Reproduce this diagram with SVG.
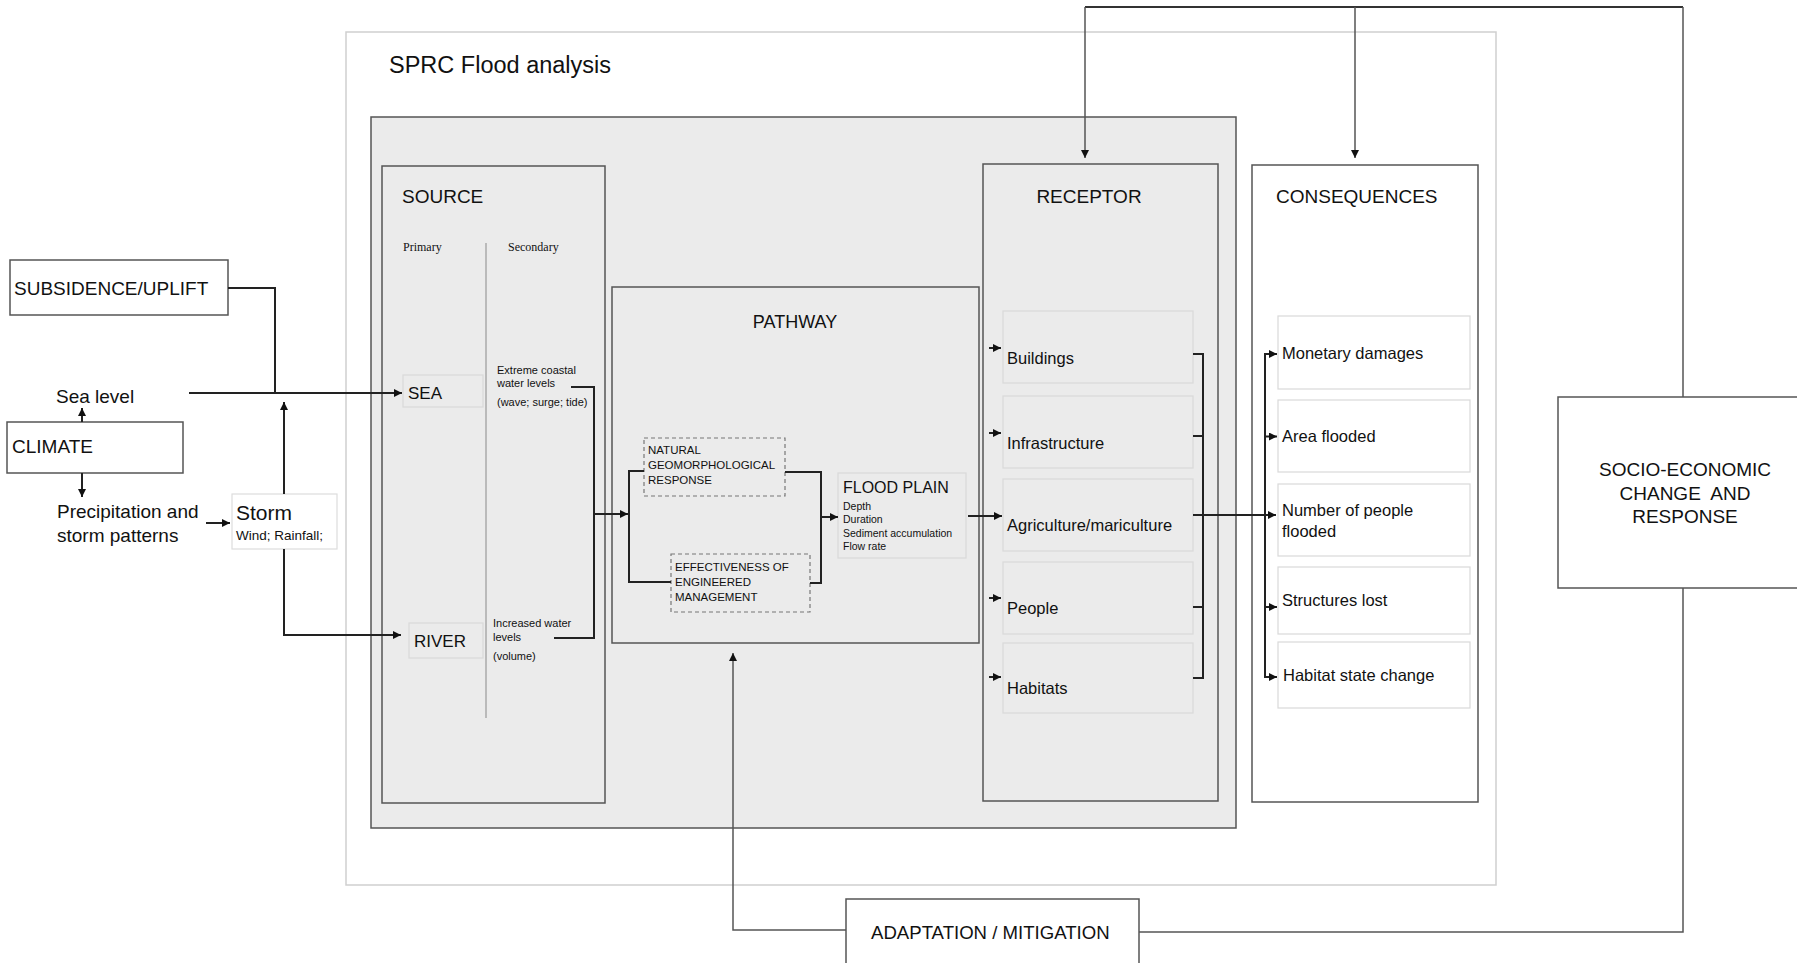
<svg xmlns="http://www.w3.org/2000/svg" width="1797" height="963" viewBox="0 0 1797 963">
<style>
text{font-family:"Liberation Sans",Arial,sans-serif;fill:#111}
.serif{font-family:"Liberation Serif","Times New Roman",serif}
.box{fill:#fff;stroke:#555;stroke-width:1.5}
.gbox{fill:#ebebeb;stroke:#555;stroke-width:1.5}
.item{fill:#ebebeb;stroke:#d9d9d9;stroke-width:1.2}
.witem{fill:#fff;stroke:#d9d9d9;stroke-width:1.2}
.dash{fill:none;stroke:#777;stroke-width:1.2;stroke-dasharray:4 3}
.ln{fill:none;stroke:#222;stroke-width:2}
.fb{fill:none;stroke:#555;stroke-width:1.5}
.h{font-size:19px}
.it{font-size:16.5px}
.sm{font-size:11px}
</style>
<defs>
<marker id="ah" viewBox="0 0 10 10" refX="10" refY="5" markerWidth="8" markerHeight="8" markerUnits="userSpaceOnUse" orient="auto">
<path d="M0,0 L10,5 L0,10 z" fill="#111"/>
</marker>
</defs>
<rect width="1797" height="963" fill="#fff"/>

<g id="sprc-frame">
<rect x="346" y="32" width="1150" height="853" fill="#fff" stroke="#cfcfcf" stroke-width="1.5"/>
<text x="389" y="73" style="font-size:23.5px">SPRC Flood analysis</text>
<rect x="371" y="117" width="865" height="711" class="gbox"/>
</g>

<g id="source">
<rect x="382" y="166" width="223" height="637" class="gbox"/>
<text x="402" y="203" class="h">SOURCE</text>
<text x="403" y="251" class="serif" style="font-size:12px">Primary</text>
<text x="508" y="251" class="serif" style="font-size:12px">Secondary</text>
<line x1="486" y1="243" x2="486" y2="718" stroke="#aaa" stroke-width="1.5"/>
</g>
<g id="sea">
<rect x="403" y="375" width="80" height="32" class="item"/>
<text x="408" y="399" style="font-size:17px">SEA</text>
</g>
<g id="river">
<rect x="409" y="623" width="74" height="35" class="item"/>
<text x="414" y="647" style="font-size:17px">RIVER</text>
</g>
<g id="sea-secondary">
<text x="497" y="374" class="sm">Extreme coastal</text>
<text x="497" y="387" class="sm">water levels</text>
<text x="497" y="406" class="sm">(wave; surge; tide)</text>
</g>
<g id="river-secondary">
<text x="493" y="627" class="sm">Increased water</text>
<text x="493" y="641" class="sm">levels</text>
<text x="493" y="660" class="sm">(volume)</text>
</g>

<g id="pathway">
<rect x="612" y="287" width="367" height="356" class="gbox"/>
<text x="795" y="328" class="h" text-anchor="middle" style="font-size:18px">PATHWAY</text>
</g>
<g id="natural">
<rect x="644" y="438" width="141" height="58" class="dash"/>
<text x="648" y="454" style="font-size:11.5px">NATURAL</text>
<text x="648" y="469" style="font-size:11.5px">GEOMORPHOLOGICAL</text>
<text x="648" y="484" style="font-size:11.5px">RESPONSE</text>
</g>
<g id="engineered">
<rect x="671" y="554" width="139" height="58" class="dash"/>
<text x="675" y="571" style="font-size:11.5px">EFFECTIVENESS OF</text>
<text x="675" y="586" style="font-size:11.5px">ENGINEERED</text>
<text x="675" y="601" style="font-size:11.5px">MANAGEMENT</text>
</g>
<g id="floodplain">
<rect x="838" y="473" width="128" height="85" class="item"/>
<text x="843" y="493" style="font-size:16px">FLOOD PLAIN</text>
<text x="843" y="510" style="font-size:10.5px">Depth</text>
<text x="843" y="523" style="font-size:10.5px">Duration</text>
<text x="843" y="537" style="font-size:10.5px">Sediment accumulation</text>
<text x="843" y="550" style="font-size:10.5px">Flow rate</text>
</g>

<g id="receptor">
<rect x="983" y="164" width="235" height="637" class="gbox"/>
<text x="1089" y="203" class="h" text-anchor="middle">RECEPTOR</text>
</g>
<g id="buildings"><rect x="1003" y="311" width="190" height="72" class="item"/><text x="1007" y="364" class="it">Buildings</text></g>
<g id="infrastructure"><rect x="1003" y="396" width="190" height="72" class="item"/><text x="1007" y="449" class="it">Infrastructure</text></g>
<g id="agriculture"><rect x="1003" y="479" width="190" height="72" class="item"/><text x="1007" y="531" class="it">Agriculture/mariculture</text></g>
<g id="people"><rect x="1003" y="562" width="190" height="72" class="item"/><text x="1007" y="614" class="it">People</text></g>
<g id="habitats"><rect x="1003" y="643" width="190" height="70" class="item"/><text x="1007" y="694" class="it">Habitats</text></g>

<g id="consequences">
<rect x="1252" y="165" width="226" height="637" class="box"/>
<text x="1276" y="203" class="h">CONSEQUENCES</text>
</g>
<g id="monetary"><rect x="1278" y="316" width="192" height="73" class="witem"/><text x="1282" y="359" class="it">Monetary damages</text></g>
<g id="area"><rect x="1278" y="400" width="192" height="72" class="witem"/><text x="1282" y="442" class="it">Area flooded</text></g>
<g id="number"><rect x="1278" y="484" width="192" height="72" class="witem"/><text x="1282" y="516" class="it">Number of people</text><text x="1282" y="537" class="it">flooded</text></g>
<g id="structures"><rect x="1278" y="567" width="192" height="67" class="witem"/><text x="1282" y="606" class="it">Structures lost</text></g>
<g id="habitat-state"><rect x="1278" y="642" width="192" height="66" class="witem"/><text x="1283" y="681" class="it">Habitat state change</text></g>

<g id="socio">
<rect x="1558" y="397" width="250" height="191" class="box"/>
<text x="1685" y="476" class="h" text-anchor="middle">SOCIO-ECONOMIC</text>
<text x="1685" y="500" class="h" text-anchor="middle" xml:space="preserve">CHANGE  AND</text>
<text x="1685" y="523" class="h" text-anchor="middle">RESPONSE</text>
</g>
<g id="adaptation">
<rect x="846" y="899" width="293" height="80" class="box"/>
<text x="871" y="939" style="font-size:18.6px">ADAPTATION / MITIGATION</text>
</g>

<g id="subsidence">
<rect x="10" y="260" width="218" height="55" class="box"/>
<text x="14" y="295" class="h">SUBSIDENCE/UPLIFT</text>
</g>
<g id="sea-level"><text x="56" y="403" class="h">Sea level</text></g>
<g id="climate">
<rect x="7" y="422" width="176" height="51" class="box"/>
<text x="12" y="453" class="h">CLIMATE</text>
</g>
<g id="precipitation">
<text x="57" y="518" class="h">Precipitation and</text>
<text x="57" y="542" class="h">storm patterns</text>
</g>
<g id="storm">
<rect x="232" y="494" width="105" height="55" fill="#fff" stroke="#ddd" stroke-width="1.2"/>
<text x="236" y="520" style="font-size:21px">Storm</text>
<text x="236" y="540" style="font-size:13.5px">Wind; Rainfall;</text>
</g>

<g id="connectors">
<path class="ln" d="M228,288 H275 V393"/>
<path class="ln" d="M189,393 H402" marker-end="url(#ah)"/>
<path class="ln" d="M284,494 V402" stroke-width="1.6" marker-end="url(#ah)"/>
<path class="ln" d="M284,549 V635 H401" stroke-width="1.6" marker-end="url(#ah)"/>
<path class="ln" d="M82,422 V408" stroke-width="1.4" marker-end="url(#ah)"/>
<path class="ln" d="M82,473 V497" stroke-width="1.4" marker-end="url(#ah)"/>
<path class="ln" d="M206,523 H230" stroke-width="1.4" marker-end="url(#ah)"/>
<path class="ln" d="M571,387 H594 V638 H554"/>
<path class="ln" d="M594,514 H628" marker-end="url(#ah)"/>
<path class="ln" d="M644,471 H629 V582 H671"/>
<path class="ln" d="M785,472 H821 V583 H810"/>
<path class="ln" d="M821,517 H838" marker-end="url(#ah)"/>
<path class="ln" d="M968,516 H1002" marker-end="url(#ah)"/>
<path class="ln" d="M989,348 H1001" stroke-width="1.6" marker-end="url(#ah)"/>
<path class="ln" d="M989,433 H1001" stroke-width="1.6" marker-end="url(#ah)"/>
<path class="ln" d="M989,598 H1001" stroke-width="1.6" marker-end="url(#ah)"/>
<path class="ln" d="M989,677 H1001" stroke-width="1.6" marker-end="url(#ah)"/>
<path class="ln" d="M1193,354 H1203 V678 H1193 M1193,436 H1203 M1193,607 H1203"/>
<path class="ln" d="M1193,515 H1276" marker-end="url(#ah)"/>
<path class="ln" d="M1277,354 H1265 V677 H1277" stroke-width="1.6"/>
<path class="ln" d="M1265,354 H1277" stroke-width="1.6" marker-end="url(#ah)"/>
<path class="ln" d="M1265,436.5 H1277" stroke-width="1.6" marker-end="url(#ah)"/>
<path class="ln" d="M1265,607 H1277" stroke-width="1.6" marker-end="url(#ah)"/>
<path class="ln" d="M1265,677 H1277" stroke-width="1.6" marker-end="url(#ah)"/>
<path d="M1085,7 H1683" stroke="#333" stroke-width="2.2" fill="none"/>
<path class="fb" d="M1085,7 V158" marker-end="url(#ah)"/>
<path class="fb" d="M1355,7 V158" marker-end="url(#ah)"/>
<path class="fb" d="M1683,7 V397"/>
<path class="fb" d="M1683,588 V932 H1139"/>
<path class="fb" d="M846,930 H733 V653" marker-end="url(#ah)"/>
</g>
</svg>
